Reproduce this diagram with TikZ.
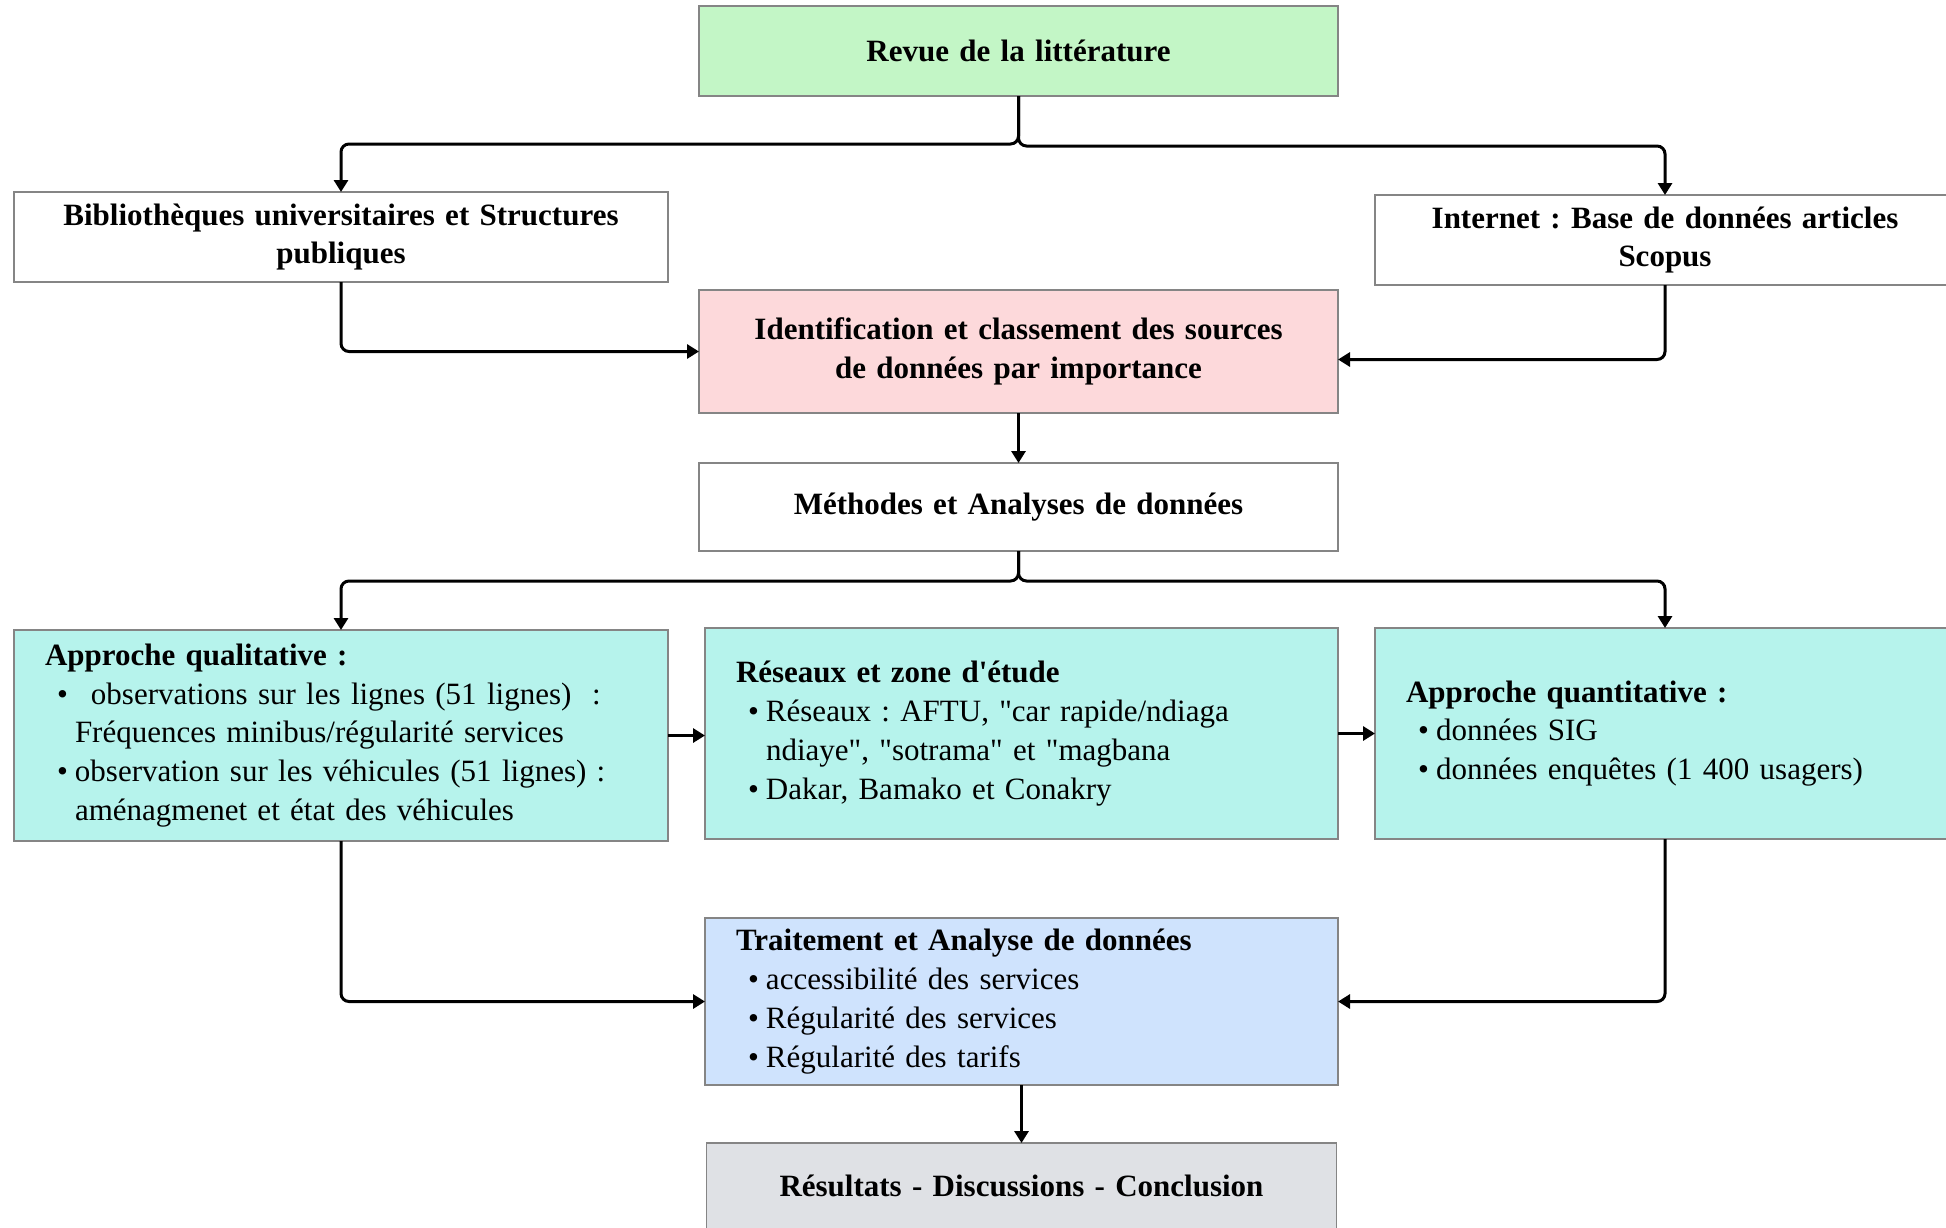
\documentclass[tikz,border=0pt]{standalone}
\usepackage{fontspec}
\setmainfont{Liberation Serif}[Ligatures=TeXOff]
\usepackage{tikz}
\usetikzlibrary{arrows.meta,positioning}
\definecolor{litgreen}{HTML}{C3F6C6}
\definecolor{litpink}{HTML}{FDD9DB}
\definecolor{litcyan}{HTML}{B6F3EC}
\definecolor{litblue}{HTML}{CFE3FD}
\definecolor{litgrey}{HTML}{DFE1E5}
\definecolor{litline}{HTML}{858585}
\newcommand{\puce}{\hspace*{6pt}\makebox[9pt][l]{\textbullet}}
\newcommand{\suite}{\hspace*{15pt}}
\frenchspacing
\tikzset{%
  litbox/.style={%
    draw=litline,
    line width=0.75pt,
    fill=white,
    outer sep=0pt,
    inner xsep=15.5pt,
    inner ysep=0pt,
    align=left,
    font=\fontsize{15.5}{19.4}\selectfont\frenchspacing
  },
  littitle/.style={%
    litbox,
    align=center,
    font=\fontsize{15.5}{19.4}\selectfont\frenchspacing\bfseries
  },
  litarrow/.style={-{Triangle[length=6pt,width=7pt]},line width=1.5pt,rounded corners=4pt}
}
\begin{document}
\begin{tikzpicture}[node distance=18.5pt]
    \useasboundingbox (0,0) rectangle (973pt,-613.5pt);
    \node[littitle,fill=litgreen,text width=288.5pt,minimum height=45pt] (revue) at (509.25pt,-25.5pt) {Revue de la littérature};
    \node[littitle,fill=litpink,text width=288.5pt,minimum height=61.5pt,below=97pt of revue] (ident) {Identification et classement des sources\\de données par importance};
    \node[littitle,text width=288.5pt,minimum height=44pt,below=25pt of ident] (methodes) {Méthodes et Analyses de données};
    \node[litbox,fill=litcyan,text width=285.5pt,minimum height=105.5pt,below=38.5pt of methodes.south east,anchor=north east] (reseaux) {\textbf{Réseaux et zone d'étude}\\
      \puce Réseaux : AFTU, "car rapide/ndiaga\\
      \suite ndiaye", "sotrama" et "magbana\\
      \puce Dakar, Bamako et Conakry};
    \node[litbox,fill=litcyan,text width=296pt,minimum height=105.5pt,left=of reseaux,yshift=-1pt] (quali) {\textbf{Approche qualitative :}\\
      \puce\hspace*{8pt}observations sur les lignes (51 lignes)\ \ :\\
      \suite Fréquences minibus/régularité services\\
      \puce observation sur les véhicules (51 lignes) :\\
      \suite aménagmenet et état des véhicules};
    \node[litbox,fill=litcyan,text width=259pt,minimum height=105.5pt,right=of reseaux] (quanti) {\textbf{Approche quantitative :}\\
      \puce données SIG\\
      \puce données enquêtes (1 400 usagers)};
    \node[littitle,text width=296pt,minimum height=45pt,above=174pt of quali] (biblio) {Bibliothèques universitaires et Structures\\publiques};
    \node[littitle,text width=259pt,minimum height=45pt,above=171.5pt of quanti] (internet) {Internet : Base de données articles\\Scopus};
    \node[litbox,fill=litblue,text width=285.5pt,minimum height=83.5pt,below=39.5pt of reseaux] (traitement) {\textbf{Traitement et Analyse de données}\\
      \puce accessibilité des services\\
      \puce Régularité des services\\
      \puce Régularité des tarifs};
    \node[littitle,fill=litgrey,text width=284pt,minimum height=43pt,below=29pt of traitement] (resultats) {Résultats - Discussions - Conclusion};

    \draw[litarrow] (revue.south) -- ++(0,-24pt) -| (biblio.north);
    \draw[litarrow] (revue.south) -- ++(0,-25pt) -| (internet.north);
    \draw[litarrow] (biblio.south) |- (ident.west);
    \draw[litarrow] (internet.south) |- ([yshift=-4pt]ident.east);
    \draw[litarrow] (ident) -- (methodes);
    \draw[litarrow] (methodes.south) -- ++(0,-15pt) -| (quali.north);
    \draw[litarrow] (methodes.south) -- ++(0,-15pt) -| (quanti.north);
    \draw[litarrow] (quali.east) -- (quali.east -| reseaux.west);
    \draw[litarrow] (reseaux) -- (quanti);
    \draw[litarrow] (quali.south) |- (traitement.west);
    \draw[litarrow] (quanti.south) |- (traitement.east);
    \draw[litarrow] (traitement) -- (resultats);
  \end{tikzpicture}
\end{document}
